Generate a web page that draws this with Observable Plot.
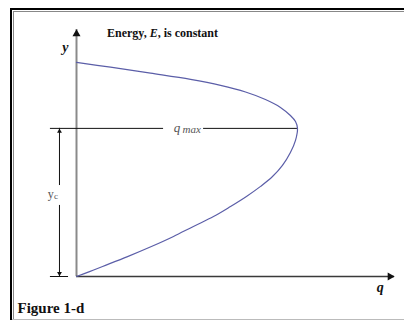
<!DOCTYPE html>
<html>
<head>
<meta charset="utf-8">
<script src="https://cdn.jsdelivr.net/npm/d3@7"></script>
<script src="https://cdn.jsdelivr.net/npm/@observablehq/plot@0.6"></script>
<style>
  html, body { margin: 0; padding: 0; background: #fff; overflow: hidden; }
  #wrap { position: relative; width: 404px; height: 322px; }
  #chart { position: absolute; left: 0; top: 0; }
  .line { position: absolute; }
  #title { position: absolute; left: 107px; top: 26px; font: bold 12px "Liberation Serif", serif; line-height: 14px; white-space: nowrap; color: #111; }
</style>
</head>
<body>
<div id="wrap">
  <div class="line" style="left:10px;top:8px;width:400px;height:2px;background:#000"></div>
  <div class="line" style="left:10px;top:8px;width:2px;height:312px;background:#000"></div>
  <div class="line" style="left:13px;top:11px;width:400px;height:1px;background:#888"></div>
  <div class="line" style="left:13px;top:11px;width:1px;height:308px;background:#888"></div>
  <div class="line" style="left:12px;top:319px;width:400px;height:1px;background:#bbb"></div>
  <div id="chart"></div>
  <div id="title">Energy, <i>E</i>, is constant</div>
</div>
<script>
// Curve: discharge q (qmax = 100) against depth y (E = 100)
const curveQ = [0, 15.4, 33.5, 51.6, 65.2, 76.5, 85.5, 92.3, 96.8, 99.1, 100,
                99.1, 96.8, 93.2, 88.7, 83.3, 76.9, 69.7, 62.0, 52.9, 43.9, 33.9, 23.1, 11.8, 5.9, 0];
const curveY = [100, 97.8, 95.0, 92.1, 89.3, 86.2, 82.7, 79.0, 75.2, 72.4, 69.2,
                63.6, 57.9, 51.9, 46.7, 42.1, 37.4, 32.7, 28.0, 23.4, 18.7, 14.0, 9.3, 4.7, 2.3, 0];
const qMax = 100;
const yCrit = 69.2;
const xAxisEnd = 143.9;
const yAxisEnd = 115.4;
const labelQmax = ["q", "max"];
const labelYc = ["y", "c"];
const axisLabels = ["y", "q"];
const caption = "Figure 1-d";

const curve = curveQ.map((q, i) => ({q, y: curveY[i]}));
const serif = "Liberation Serif";

const plot = Plot.plot({
  width: 404,
  height: 322,
  marginLeft: 76,
  marginRight: 10,
  marginTop: 29,
  marginBottom: 46,
  x: {domain: [0, xAxisEnd], axis: null},
  y: {domain: [0, yAxisEnd], axis: null},
  style: {background: "transparent", overflow: "visible"},
  marks: [
    // axes
    Plot.ruleX([0], {y1: 0, y2: yAxisEnd, stroke: "#8a8a8a", strokeWidth: 2}),
    Plot.ruleY([0], {x1: 0, x2: xAxisEnd, stroke: "#3a3a3a", strokeWidth: 1.5}),
    Plot.dot([0], {x: 0, y: yAxisEnd, symbol: "triangle", r: 3, fill: "#111", stroke: null, dy: 4.5}),
    Plot.dot([0], {x: xAxisEnd, y: 0, symbol: "triangle", r: 3, fill: "#111", stroke: null, rotate: 90, dx: -4.5}),
    // qmax line with gap for label
    Plot.ruleY([yCrit], {x1: -11.8, x2: 39.4, stroke: "#111", strokeWidth: 1}),
    Plot.ruleY([yCrit], {x1: 57.5, x2: qMax, stroke: "#111", strokeWidth: 1}),
    // y_c dimension arrow
    Plot.ruleY([0], {x1: -11.8, x2: -3.6, stroke: "#111", strokeWidth: 1}),
    Plot.ruleX([-7.7], {y1: 42.5, y2: yCrit, stroke: "#111", strokeWidth: 1}),
    Plot.ruleX([-7.7], {y1: 0, y2: 33.2, stroke: "#111", strokeWidth: 1}),
    Plot.dot([0], {x: -7.7, y: yCrit, symbol: "triangle", r: 1.8, fill: "#111", stroke: null, dy: 3}),
    Plot.dot([0], {x: -7.7, y: 0, symbol: "triangle", r: 1.8, fill: "#111", stroke: null, rotate: 180, dy: -3}),
    // the curve
    Plot.line(curve, {x: "q", y: "y", curve: "catmull-rom", stroke: "#5b5ea8", strokeWidth: 1.2}),
    // labels
    Plot.text([labelQmax[0]], {x: 45.5, y: yCrit, text: d => d, fontFamily: serif, fontStyle: "italic", fontSize: 13, fill: "#555", dy: -1}),
    Plot.text([labelQmax[1]], {x: 48.0, y: yCrit, text: d => d, fontFamily: serif, fontStyle: "italic", fontSize: 11, fill: "#555", textAnchor: "start", dy: 1}),
    Plot.text([labelYc[0]], {x: -11.6, y: 38.3, text: d => d, fontFamily: serif, fontSize: 12, fill: "#555"}),
    Plot.text([labelYc[1]], {x: -10.2, y: 38.3, text: d => d, fontFamily: serif, fontSize: 9, fill: "#555", textAnchor: "start", dy: 2}),
    Plot.text([axisLabels[0]], {x: -5.0, y: 107.0, text: d => d, fontFamily: serif, fontStyle: "italic", fontWeight: "bold", fontSize: 14, fill: "#111"}),
    Plot.text([axisLabels[1]], {x: 137.5, y: -5.3, text: d => d, fontFamily: serif, fontStyle: "italic", fontWeight: "bold", fontSize: 14, fill: "#111"}),
    Plot.text([caption], {x: -26.7, y: -15.0, text: d => d, fontFamily: serif, fontWeight: "bold", fontSize: 15, fill: "#111", textAnchor: "start"})
  ]
});
document.getElementById("chart").appendChild(plot);
</script>
</body>
</html>
